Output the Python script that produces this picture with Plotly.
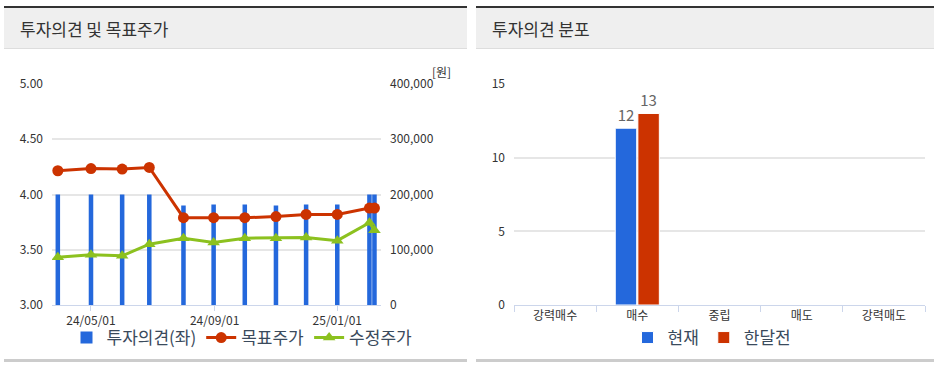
import plotly.graph_objects as go

# ---------------- data ----------------
dates = ["2024-03-29", "2024-05-01", "2024-06-01", "2024-06-28", "2024-08-01", "2024-08-31",
         "2024-10-01", "2024-11-01", "2024-12-01", "2025-01-01", "2025-02-02", "2025-02-07"]
opinion = [4.00, 4.00, 4.00, 4.00, 3.90, 3.91, 3.91, 3.90, 3.91, 3.91, 4.00, 4.00]
target_price = [243000, 247000, 246000, 249000, 158000, 158000, 158000, 160000, 164000, 164000, 175500, 175500]
adj_price = [86500, 91000, 89000, 110000, 121000, 113000, 121000, 121000, 122000, 116500, 149000, 135500]
date_ticks = ["2024-05-01", "2024-09-01", "2025-01-01"]

dist_categories = ["강력매수", "매수", "중립", "매도", "강력매도"]
dist_now = [0, 12, 0, 0, 0]
dist_month_ago = [0, 13, 0, 0, 0]

# ---------------- layout helpers ----------------
W, H = 934, 365
def fx(p): return p / W
def fy(p): return 1 - p / H

FONT = "Noto Sans CJK KR, Noto Sans, sans-serif"
BLUE = "#2468dc"
RED = "#cc3300"
GREEN = "#8cc11f"
GRID = "#e6e6e6"
AXIS = "#ccd6eb"
LEG = "#3a4a5c"

fig = go.Figure()

fig.add_trace(go.Bar(
    x=dates, y=opinion, name="투자의견(좌)", xaxis="x", yaxis="y",
    width=4.5 * 86400000, marker=dict(color=BLUE, line=dict(width=0)),
    legend="legend", hoverinfo="x+y"))
fig.add_trace(go.Scatter(
    x=dates, y=target_price, name="목표주가", xaxis="x", yaxis="y2",
    mode="lines+markers", line=dict(color=RED, width=3),
    marker=dict(symbol="circle", size=11, color=RED), legend="legend"))
fig.add_trace(go.Scatter(
    x=dates, y=adj_price, name="수정주가", xaxis="x", yaxis="y2",
    mode="lines+markers", line=dict(color=GREEN, width=3),
    marker=dict(symbol="triangle-up", size=11, color=GREEN), legend="legend"))

def lbl(vals):
    return [str(v) if v else "" for v in vals]

fig.add_trace(go.Bar(
    x=dist_categories, y=dist_now, name="현재", xaxis="x2", yaxis="y3",
    marker=dict(color=BLUE, line=dict(color="#ffffff", width=1)),
    text=lbl(dist_now), textposition="outside", cliponaxis=False,
    textfont=dict(color="#666666", size=15), legend="legend2"))
fig.add_trace(go.Bar(
    x=dist_categories, y=dist_month_ago, name="한달전", xaxis="x2", yaxis="y3",
    marker=dict(color=RED, line=dict(color="#ffffff", width=1)),
    text=lbl(dist_month_ago), textposition="outside", cliponaxis=False,
    textfont=dict(color="#666666", size=15), legend="legend2"))

tickfont = dict(family=FONT, size=12, color="#333333")

shapes = []
# panel headers and bottom borders
for x0, x1 in [(4, 467), (476, 934)]:
    shapes.append(dict(type="rect", xref="paper", yref="paper", x0=fx(x0), x1=fx(x1),
                       y0=fy(48), y1=fy(8), fillcolor="#efefef", line=dict(width=0), layer="below"))
    shapes.append(dict(type="rect", xref="paper", yref="paper", x0=fx(x0), x1=fx(x1),
                       y0=fy(8), y1=fy(6), fillcolor="#333333", line=dict(width=0), layer="below"))
    shapes.append(dict(type="rect", xref="paper", yref="paper", x0=fx(x0), x1=fx(x1),
                       y0=fy(49), y1=fy(48), fillcolor="#dddddd", line=dict(width=0), layer="below"))
    shapes.append(dict(type="rect", xref="paper", yref="paper", x0=fx(x0), x1=fx(x1),
                       y0=fy(362), y1=fy(359), fillcolor="#cccccc", line=dict(width=0), layer="below"))

annotations = [
    dict(text="투자의견 및 목표주가", xref="paper", yref="paper", x=fx(18), y=fy(28),
         xanchor="left", yanchor="middle", showarrow=False,
         font=dict(family=FONT, size=17, color="#333333")),
    dict(text="투자의견 분포", xref="paper", yref="paper", x=fx(490), y=fy(28),
         xanchor="left", yanchor="middle", showarrow=False,
         font=dict(family=FONT, size=17, color="#333333")),
    dict(text="[원]", xref="paper", yref="paper", x=fx(441), y=fy(72),
         xanchor="center", yanchor="middle", showarrow=False,
         font=dict(family=FONT, size=12, color="#333333")),
]

fig.update_layout(
    width=W, height=H, margin=dict(l=0, r=0, t=0, b=0, autoexpand=False),
    paper_bgcolor="white", plot_bgcolor="white",
    font=dict(family=FONT, color="#333333"),
    barmode="group", bargap=0.45, bargroupgap=0.05,
    shapes=shapes, annotations=annotations,
    xaxis=dict(type="date", domain=[fx(52), fx(381)], anchor="y",
               range=["2024-03-23 05:00", "2025-02-13 12:00"],
               tickvals=date_ticks, tickformat="%y/%m/%d",
               ticks="outside", ticklen=5, tickcolor=AXIS, tickwidth=1,
               showline=True, linecolor=AXIS, linewidth=1, showgrid=False,
               tickfont=tickfont, automargin=False),
    yaxis=dict(domain=[fy(305), fy(84)], anchor="x", range=[3, 5], dtick=0.5,
               tickformat=".2f", showgrid=True, gridcolor=GRID, gridwidth=2,
               zeroline=False, tickfont=tickfont, ticklabelstandoff=8, automargin=False),
    yaxis2=dict(overlaying="y", side="right", anchor="x", range=[0, 400000],
                dtick=100000, tickformat=",", showgrid=False, zeroline=False,
                tickfont=tickfont, ticklabelstandoff=8, automargin=False),
    xaxis2=dict(type="category", domain=[fx(514), fx(925)], anchor="y3",
                tickson="boundaries", ticks="outside", ticklen=6, tickcolor=AXIS,
                showline=True, linecolor=AXIS, linewidth=1, showgrid=False,
                tickfont=tickfont, automargin=False),
    yaxis3=dict(domain=[fy(305), fy(84)], anchor="x2", range=[0, 15], dtick=5,
                showgrid=True, gridcolor=GRID, gridwidth=2, zeroline=False,
                tickfont=tickfont, ticklabelstandoff=8, automargin=False),
    legend=dict(orientation="h", x=fx(242), xanchor="center", y=fy(338), yanchor="middle",
                font=dict(family=FONT, size=17, color=LEG), bgcolor="rgba(0,0,0,0)",
                traceorder="normal", itemclick=False),
    legend2=dict(orientation="h", x=fx(712), xanchor="center", y=fy(338), yanchor="middle",
                 font=dict(family=FONT, size=17, color=LEG), bgcolor="rgba(0,0,0,0)",
                 traceorder="normal", itemclick=False),
    showlegend=True,
)

fig.write_html("out.html", config={"displayModeBar": False},
               post_script="document.body.style.margin='0';document.body.style.overflow='hidden';")
